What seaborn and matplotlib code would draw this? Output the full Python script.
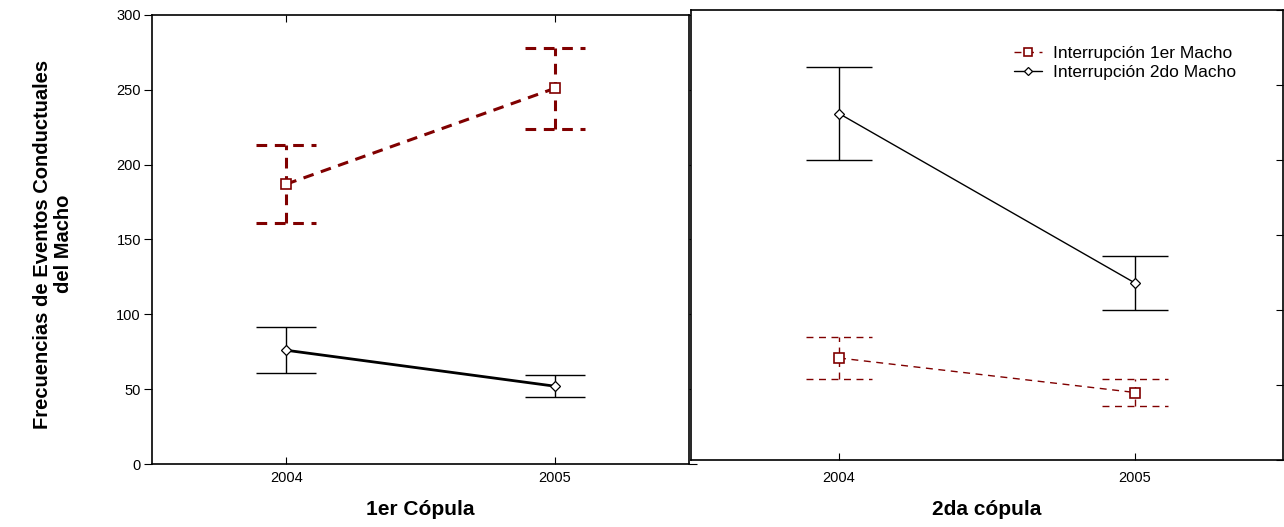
import seaborn as sns
import matplotlib.pyplot as plt
import numpy as np
import pandas as pd

# datos
years = [2004, 2005]
cop1_macho1 = [187, 251]
cop1_macho1_err = [26, 27]
cop1_macho2 = [76, 52]
cop1_macho2_err = [15.5, 7.5]
cop2_macho1 = [68, 45]
cop2_macho1_err = [14, 9]
cop2_macho2 = [231, 118]
cop2_macho2_err = [31, 18]

serie1 = "Interrupción 1er Macho"
serie2 = "Interrupción 2do Macho"
rojo = "#800000"

sns.set_theme(style="ticks")
plt.rcParams['font.family'] = ['Liberation Sans', 'DejaVu Sans']
for k in ["text.color", "axes.labelcolor", "xtick.color", "ytick.color"]:
    plt.rcParams[k] = "black"

fig = plt.figure(figsize=(12.84, 5.27), dpi=100)
W, H = 1284, 527
ax1 = fig.add_axes([152 / W, (H - 464) / H, 537 / W, 449 / H])
ax2 = fig.add_axes([691 / W, (H - 460) / H, 592 / W, 450 / H])


def barras(ax, m, e, color, lw, ls):
    x = np.array(years)
    m = np.array(m)
    e = np.array(e)
    ax.vlines(x, m - e, m + e, colors=color, linewidth=lw, linestyles=ls, zorder=2)
    for y in (m - e, m + e):
        ax.hlines(y, x - 0.112, x + 0.112, colors=color, linewidth=lw,
                  linestyles=ls, zorder=2)


def panel(ax, m1, e1, m2, e2, lw1, lw2, elw1, dash):
    df = pd.DataFrame({"year": years * 2,
                       "valor": m1 + m2,
                       "serie": [serie1] * 2 + [serie2] * 2})
    barras(ax, m1, e1, rojo, elw1, (0, dash))
    barras(ax, m2, e2, "black", 1.0, "solid")
    sns.lineplot(data=df[df.serie == serie1], x="year", y="valor", ax=ax,
                 color=rojo, linewidth=lw1, linestyle=(0, dash),
                 marker="s", markersize=7, markerfacecolor="white",
                 markeredgecolor=rojo, markeredgewidth=1.2, label=serie1,
                 zorder=3)
    sns.lineplot(data=df[df.serie == serie2], x="year", y="valor", ax=ax,
                 color="black", linewidth=lw2,
                 marker="D", markersize=5, markerfacecolor="white",
                 markeredgecolor="black", markeredgewidth=0.9, label=serie2,
                 zorder=3)
    ax.set_xlim(2003.5, 2005.5)
    ax.set_ylim(0, 300)
    ax.set_xticks(years)
    ax.set_xticklabels([str(y) for y in years], fontsize=10.5)
    ax.set_yticks(range(0, 301, 50))
    ax.set_ylabel("")
    for s in ax.spines.values():
        s.set_linewidth(1.2)
        s.set_color("black")


panel(ax1, cop1_macho1, cop1_macho1_err, cop1_macho2, cop1_macho2_err,
      2.2, 2.0, 2.2, (3.5, 2.5))
panel(ax2, cop2_macho1, cop2_macho1_err, cop2_macho2, cop2_macho2_err,
      1.0, 1.0, 1.0, (5, 4))

ax1.tick_params(axis="y", labelsize=10.5, direction="out", length=6, width=0.8,
                pad=2)
ax1.tick_params(axis="x", direction="in", length=5, width=0.8, top=True, pad=5)
ax1.tick_params(axis="y", right=True)
ax1.legend_.remove()
ax1.set_xlabel("1er Cópula", fontsize=15, fontweight="bold", labelpad=11)
ax1.set_ylabel("Frecuencias de Eventos Conductuales\ndel Macho",
               fontsize=14.5, fontweight="bold", linespacing=1.15)
ax1.yaxis.set_label_coords(-0.147, 0.49)

ax2.tick_params(axis="y", labelleft=False, left=False, right=True,
                direction="in", length=5, width=0.8)
ax2.tick_params(axis="x", direction="in", length=5, width=0.8, labelsize=10.5,
                pad=8)
ax2.set_xlabel("2da cópula", fontsize=15, fontweight="bold", labelpad=11)
ax2.legend(loc="upper left", bbox_to_anchor=(0.52, 0.955), frameon=False,
           fontsize=12.5, handlelength=1.6, handletextpad=0.6,
           labelspacing=0.2, markerscale=0.75)

fig.savefig("out.png", dpi=100)
